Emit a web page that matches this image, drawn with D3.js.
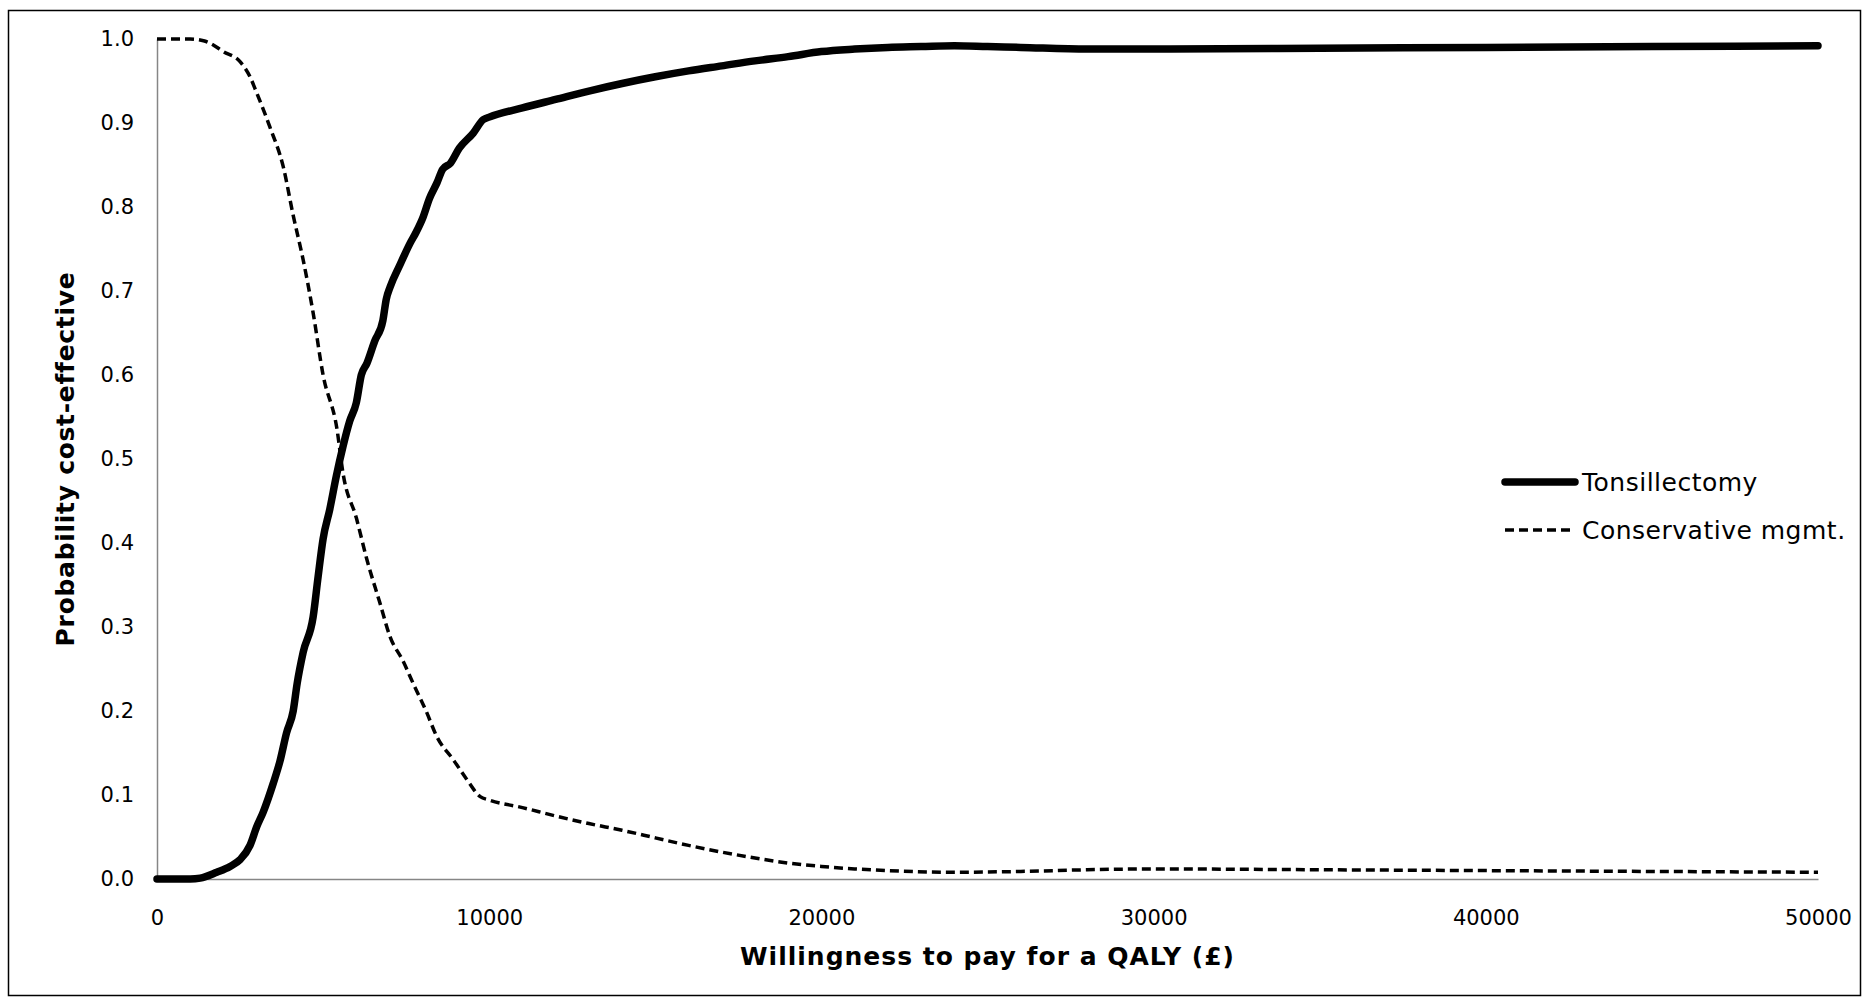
<!DOCTYPE html>
<html lang="en">
  <head>
    <meta charset="utf-8">
    <title>CEAC</title>
    <style>
      body { margin: 0; background: #fff; }
      text { font-family: "DejaVu Sans", Verdana, sans-serif; }
    </style>
  </head>
  <body>
    <script src="https://d3js.org/d3.v7.min.js"></script>
    <div id="chart"></div>
    <script>

    // willingness to pay (x) and probability cost-effective for each strategy
    var wtpTonsil = [0, 500, 1000, 1300, 1800, 2200, 2500, 2800, 3000, 3200, 3500, 3700, 3900, 4100, 4220, 4400, 4700, 4850, 5000, 5200, 5400, 5600, 5800, 6000, 6150, 6320, 6550, 6800, 6900, 7020, 7300, 7620, 7800, 8010, 8200, 8430, 8600, 8830, 9100, 9520, 9820, 10000, 11000, 12000, 13000, 14000, 15000, 16000, 17000, 18000, 19000, 20000, 21000, 22000, 23000, 24000, 25000, 26000, 28000, 30000, 35000, 40000, 45000, 50000];
    var probTonsil = [0, 0, 0, 0.001, 0.008, 0.015, 0.023, 0.04, 0.062, 0.08, 0.114, 0.14, 0.174, 0.2, 0.233, 0.27, 0.312, 0.36, 0.405, 0.44, 0.48, 0.515, 0.545, 0.567, 0.6, 0.614, 0.64, 0.665, 0.69, 0.705, 0.73, 0.757, 0.77, 0.788, 0.81, 0.829, 0.845, 0.852, 0.87, 0.888, 0.904, 0.907, 0.918, 0.928, 0.938, 0.947, 0.955, 0.962, 0.968, 0.974, 0.979, 0.985, 0.988, 0.99, 0.991, 0.992, 0.991, 0.99, 0.988, 0.988, 0.989, 0.99, 0.991, 0.992];

    var wtpConserv = [0, 500, 1000, 1400, 1600, 2000, 2500, 2800, 3000, 3400, 3800, 4100, 4400, 4700, 5000, 5420, 5600, 6000, 6320, 6700, 7020, 7400, 7710, 8100, 8430, 8920, 9300, 9730, 10000, 11000, 12000, 13000, 14000, 15000, 16000, 17000, 18000, 19000, 20000, 21000, 22000, 24000, 26000, 28000, 30000, 35000, 40000, 45000, 50000];
    var probConserv = [1, 1, 1, 0.998, 0.995, 0.985, 0.973, 0.955, 0.936, 0.895, 0.848, 0.79, 0.737, 0.674, 0.6, 0.535, 0.483, 0.43, 0.38, 0.33, 0.288, 0.26, 0.233, 0.2, 0.169, 0.142, 0.12, 0.098, 0.094, 0.085, 0.075, 0.066, 0.058, 0.049, 0.04, 0.032, 0.025, 0.019, 0.015, 0.012, 0.01, 0.008, 0.009, 0.011, 0.012, 0.011, 0.01, 0.009, 0.008];

    var xTicks = [0, 10000, 20000, 30000, 40000, 50000];
    var yTicks = [0, 0.1, 0.2, 0.3, 0.4, 0.5, 0.6, 0.7, 0.8, 0.9, 1.0];
    var seriesNames = ["Tonsillectomy", "Conservative mgmt."];

    var W = 1863, H = 998;
    var margin = {top: 39, right: 45, bottom: 119, left: 157};
    var width = W - margin.left - margin.right,
        height = H - margin.top - margin.bottom;

    var svg = d3.select("#chart")
      .append("svg")
        .attr("width", W)
        .attr("height", H);

    // outer frame
    svg.append("rect")
      .attr("x", 8.5).attr("y", 10.5)
      .attr("width", 1852).attr("height", 985)
      .attr("fill", "none")
      .attr("stroke", "#000")
      .attr("stroke-width", 1.5);

    var g = svg.append("g")
      .attr("transform", "translate(" + margin.left + "," + margin.top + ")");

    var x = d3.scaleLinear().domain([0, 50000]).range([0, width]);
    var y = d3.scaleLinear().domain([0, 1]).range([height, 0]);

    // axes
    var xAxis = g.append("g")
      .attr("transform", "translate(0," + height + ")")
      .call(d3.axisBottom(x).tickValues(xTicks).tickSize(0).tickPadding(31).tickFormat(d3.format("d")));
    var yAxis = g.append("g")
      .call(d3.axisLeft(y).tickValues(yTicks).tickSize(0).tickPadding(23).tickFormat(d3.format(".1f")));

    [xAxis, yAxis].forEach(function(a) {
      a.select(".domain").attr("stroke", "#868686").attr("stroke-width", 1.5);
      a.selectAll("text")
        .attr("font-family", "DejaVu Sans, Verdana, sans-serif")
        .attr("font-size", "21px")
        .attr("fill", "#000");
    });

    // lines
    var line = d3.line()
      .x(function(d) { return x(d[0]); })
      .y(function(d) { return y(d[1]); })
      .curve(d3.curveMonotoneX);

    var tonsil = wtpTonsil.map(function(v, i) { return [v, probTonsil[i]]; });
    var conserv = wtpConserv.map(function(v, i) { return [v, probConserv[i]]; });

    g.append("path")
      .datum(conserv)
      .attr("d", line)
      .attr("fill", "none")
      .attr("stroke", "#000")
      .attr("stroke-width", 3.5)
      .attr("stroke-dasharray", "9,5");

    g.append("path")
      .datum(tonsil)
      .attr("d", line)
      .attr("fill", "none")
      .attr("stroke", "#000")
      .attr("stroke-width", 7.5)
      .attr("stroke-linejoin", "round")
      .attr("stroke-linecap", "round");

    // axis titles
    svg.append("text")
      .attr("x", margin.left + width / 2)
      .attr("y", 965)
      .attr("text-anchor", "middle")
      .attr("font-size", "25px")
      .attr("font-weight", "bold")
      .attr("letter-spacing", "1px")
      .text("Willingness to pay for a QALY (£)");

    svg.append("text")
      .attr("transform", "translate(74," + (margin.top + height / 2) + ") rotate(-90)")
      .attr("text-anchor", "middle")
      .attr("font-size", "25px")
      .attr("font-weight", "bold")
      .attr("letter-spacing", "0.7px")
      .text("Probability cost-effective");

    // legend
    var legend = svg.append("g").attr("transform", "translate(1505,482)");
    legend.append("line")
      .attr("x1", 0).attr("x2", 70).attr("y1", 0).attr("y2", 0)
      .attr("stroke", "#000").attr("stroke-width", 7.5).attr("stroke-linecap", "round");
    legend.append("line")
      .attr("x1", 0).attr("x2", 70).attr("y1", 48).attr("y2", 48)
      .attr("stroke", "#000").attr("stroke-width", 3.5).attr("stroke-dasharray", "9,5");
    legend.selectAll("text.lab")
      .data(seriesNames)
      .enter()
      .append("text")
        .attr("x", 77)
        .attr("y", function(d, i) { return i * 48 + 9; })
        .attr("font-size", "25px")
        .attr("letter-spacing", "0.5px")
        .text(function(d) { return d; });

    </script>
  </body>
</html>
